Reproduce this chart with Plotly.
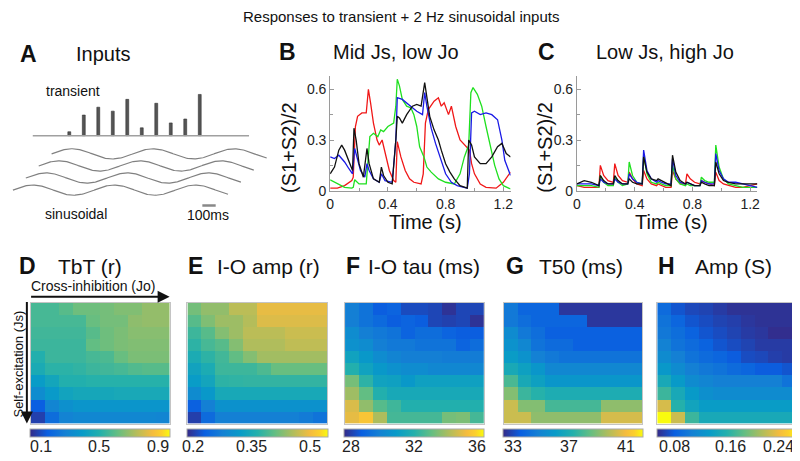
import numpy as np
import plotly.graph_objects as go

# The page body adds an 8 px margin, so the figure is drawn 8 px smaller and
# all layout positions (given in screen pixels) are shifted by that offset.
OFF = 8
W, H = 800 - OFF, 461 - OFF
FONT = "Liberation Sans, Arial, Helvetica, sans-serif"

def fx(p):
    return (p - OFF) / W

def fy(p):
    return 1 - (p - OFF) / H

# ---------------- Panel A: input schematic ----------------
transient_times_ms = [100, 200, 300, 400, 500, 600, 700, 800, 900, 1000]
transient_amps = [4, 21, 29, 25, 37, 8, 33, 13, 17, 42]
sine_period_ms = 560
sine_span_ms = 1484
sine_amp = 5.2
sine_starts_ms = [-22, -111, -200, -289]
sine_levels = [68.5, 56.2, 43.9, 31.6]

# ---------------- Panel B: Mid Js, low Jo ----------------
tB_red = [0, 0.05, 0.1, 0.15, 0.16, 0.175, 0.19, 0.22, 0.25, 0.265, 0.28, 0.3, 0.325, 0.34, 0.36, 0.38,
          0.41, 0.44, 0.455, 0.465, 0.49, 0.52, 0.55, 0.58, 0.63, 0.645, 0.66, 0.68, 0.72, 0.75, 0.77,
          0.79, 0.82, 0.84, 0.87, 0.9, 0.94, 0.965, 0.98, 1.0, 1.04, 1.08, 1.15, 1.2, 1.25]
yB_red = [0.015, 0.015, 0.03, 0.06, 0.08, 0.38, 0.44, 0.46, 0.46, 0.6, 0.52, 0.4, 0.3, 0.27, 0.3, 0.22,
          0.12, 0.06, 0.05, 0.29, 0.2, 0.12, 0.07, 0.05, 0.04, 0.1, 0.4, 0.48, 0.53, 0.55, 0.5,
          0.52, 0.45, 0.5, 0.38, 0.3, 0.26, 0.24, 0.16, 0.1, 0.04, 0.02, 0.015, 0.05, 0.11]

tB_green = [0, 0.05, 0.1, 0.15, 0.16, 0.17, 0.2, 0.25, 0.26, 0.275, 0.3, 0.33, 0.35, 0.37, 0.4, 0.44,
            0.455, 0.465, 0.48, 0.5, 0.53, 0.56, 0.58, 0.6, 0.62, 0.65, 0.67, 0.7, 0.75, 0.8, 0.86,
            0.9, 0.93, 0.96, 0.975, 0.99, 1.02, 1.05, 1.08, 1.11, 1.14, 1.17, 1.2, 1.25]
yB_green = [0.065, 0.04, 0.02, 0.015, 0.02, 0.065, 0.04, 0.04, 0.14, 0.32, 0.34, 0.32, 0.36, 0.35, 0.38, 0.4,
            0.5, 0.66, 0.62, 0.54, 0.5, 0.49, 0.45, 0.38, 0.26, 0.2, 0.14, 0.11, 0.07, 0.05, 0.04,
            0.1, 0.2, 0.27, 0.58, 0.61, 0.57, 0.5, 0.38, 0.26, 0.15, 0.07, 0.03, 0.01]

tB_blue = [0, 0.03, 0.06, 0.1, 0.13, 0.155, 0.17, 0.185, 0.21, 0.24, 0.255, 0.27, 0.3, 0.34, 0.355, 0.38,
           0.43, 0.455, 0.465, 0.5, 0.53, 0.56, 0.6, 0.64, 0.655, 0.67, 0.7, 0.73, 0.76, 0.8, 0.84,
           0.88, 0.95, 0.965, 0.98, 1.0, 1.04, 1.08, 1.12, 1.16, 1.19, 1.21, 1.25]
yB_blue = [0.2, 0.19, 0.21, 0.17, 0.13, 0.1, 0.25, 0.2, 0.12, 0.08, 0.16, 0.12, 0.07, 0.05, 0.1, 0.06,
           0.05, 0.3, 0.55, 0.54, 0.52, 0.5, 0.47, 0.45, 0.58, 0.5, 0.37, 0.28, 0.2, 0.1, 0.05,
           0.03, 0.015, 0.1, 0.46, 0.47, 0.45, 0.46, 0.45, 0.42, 0.3, 0.18, 0.09]

tB_black = [0, 0.03, 0.06, 0.08, 0.1, 0.13, 0.155, 0.165, 0.18, 0.2, 0.23, 0.255, 0.27, 0.3, 0.34, 0.355,
            0.37, 0.4, 0.43, 0.455, 0.465, 0.48, 0.5, 0.53, 0.57, 0.6, 0.63, 0.655, 0.67, 0.69, 0.72,
            0.75, 0.77, 0.8, 0.83, 0.86, 0.9, 0.95, 0.96, 0.98, 1.0, 1.04, 1.08, 1.12, 1.16, 1.19,
            1.22, 1.25]
yB_black = [0.1, 0.14, 0.24, 0.27, 0.24, 0.17, 0.12, 0.37, 0.3, 0.16, 0.08, 0.25, 0.16, 0.07, 0.05, 0.14,
            0.09, 0.05, 0.04, 0.3, 0.44, 0.43, 0.4, 0.45, 0.5, 0.51, 0.5, 0.64, 0.55, 0.44, 0.36,
            0.3, 0.24, 0.16, 0.11, 0.07, 0.03, 0.015, 0.3, 0.27, 0.2, 0.16, 0.16, 0.2, 0.26, 0.28,
            0.22, 0.2]

# ---------------- Panel C: Low Js, high Jo ----------------
tC = [0.00, 0.05, 0.10,
      0.152, 0.162, 0.185, 0.215,
      0.252, 0.262, 0.285, 0.315,
      0.352, 0.362, 0.385, 0.415,
      0.452, 0.462, 0.485, 0.515,
      0.552, 0.562, 0.585, 0.615,
      0.652, 0.662, 0.685, 0.715,
      0.752, 0.762, 0.785, 0.815,
      0.852, 0.862, 0.885, 0.915,
      0.952, 0.962, 0.985, 1.015,
      1.05, 1.10, 1.15, 1.20, 1.25]
yC_red = [0.03, 0.02, 0.02,
          0.02, 0.15, 0.09, 0.06,
          0.05, 0.16, 0.09, 0.06,
          0.05, 0.11, 0.07, 0.04,
          0.03, 0.12, 0.07, 0.04,
          0.03, 0.04, 0.03, 0.02,
          0.02, 0.12, 0.07, 0.04,
          0.04, 0.10, 0.07, 0.05,
          0.04, 0.06, 0.05, 0.04,
          0.03, 0.11, 0.06, 0.04,
          0.03, 0.02, 0.02, 0.03, 0.04]
yC_green = [0.03, 0.03, 0.03,
            0.02, 0.09, 0.05, 0.03,
            0.03, 0.08, 0.05, 0.03,
            0.04, 0.17, 0.09, 0.05,
            0.04, 0.21, 0.10, 0.05,
            0.04, 0.05, 0.04, 0.03,
            0.03, 0.15, 0.07, 0.04,
            0.03, 0.04, 0.03, 0.03,
            0.03, 0.08, 0.06, 0.05,
            0.05, 0.27, 0.14, 0.07,
            0.04, 0.03, 0.02, 0.02, 0.02]
yC_blue = [0.04, 0.04, 0.04,
           0.03, 0.07, 0.05, 0.04,
           0.04, 0.07, 0.05, 0.04,
           0.04, 0.10, 0.07, 0.05,
           0.04, 0.24, 0.12, 0.07,
           0.05, 0.06, 0.05, 0.04,
           0.04, 0.19, 0.09, 0.05,
           0.04, 0.05, 0.04, 0.03,
           0.03, 0.06, 0.05, 0.04,
           0.04, 0.22, 0.12, 0.07,
           0.05, 0.05, 0.04, 0.03, 0.02]
yC_black = [0.04, 0.06, 0.05,
            0.03, 0.09, 0.06, 0.04,
            0.04, 0.09, 0.06, 0.04,
            0.04, 0.07, 0.05, 0.04,
            0.04, 0.20, 0.11, 0.07,
            0.06, 0.07, 0.06, 0.05,
            0.03, 0.21, 0.11, 0.06,
            0.04, 0.05, 0.04, 0.03,
            0.03, 0.05, 0.04, 0.03,
            0.03, 0.17, 0.10, 0.06,
            0.05, 0.04, 0.04, 0.04, 0.04]

# ---------------- Panels D-H: 10x10 maps (rows: Js, cols: Jo) ----------------
tbt_r = [
    [0.57, 0.57, 0.60, 0.64, 0.64, 0.65, 0.67, 0.67, 0.70, 0.70],
    [0.57, 0.57, 0.57, 0.57, 0.63, 0.65, 0.65, 0.69, 0.70, 0.70],
    [0.56, 0.56, 0.56, 0.56, 0.60, 0.64, 0.66, 0.68, 0.68, 0.68],
    [0.55, 0.55, 0.55, 0.55, 0.62, 0.64, 0.66, 0.67, 0.67, 0.67],
    [0.50, 0.55, 0.55, 0.55, 0.57, 0.58, 0.63, 0.66, 0.66, 0.66],
    [0.47, 0.52, 0.52, 0.53, 0.55, 0.56, 0.57, 0.59, 0.60, 0.60],
    [0.39, 0.44, 0.50, 0.50, 0.51, 0.51, 0.51, 0.51, 0.51, 0.51],
    [0.32, 0.38, 0.43, 0.45, 0.45, 0.45, 0.46, 0.46, 0.46, 0.46],
    [0.15, 0.29, 0.34, 0.36, 0.36, 0.36, 0.36, 0.36, 0.36, 0.36],
    [0.08, 0.20, 0.28, 0.30, 0.30, 0.30, 0.30, 0.30, 0.30, 0.29],
]
io_amp_r = [
    [0.420, 0.438, 0.438, 0.463, 0.463, 0.491, 0.491, 0.491, 0.491, 0.491],
    [0.402, 0.427, 0.445, 0.445, 0.459, 0.484, 0.484, 0.484, 0.484, 0.484],
    [0.384, 0.402, 0.430, 0.445, 0.463, 0.463, 0.463, 0.473, 0.473, 0.473],
    [0.373, 0.391, 0.402, 0.430, 0.456, 0.456, 0.456, 0.466, 0.466, 0.466],
    [0.355, 0.373, 0.387, 0.409, 0.430, 0.448, 0.448, 0.448, 0.448, 0.448],
    [0.337, 0.355, 0.384, 0.384, 0.384, 0.395, 0.413, 0.413, 0.413, 0.413],
    [0.323, 0.341, 0.373, 0.375, 0.377, 0.377, 0.377, 0.377, 0.377, 0.377],
    [0.294, 0.316, 0.348, 0.348, 0.348, 0.348, 0.348, 0.348, 0.348, 0.348],
    [0.234, 0.277, 0.305, 0.305, 0.305, 0.305, 0.305, 0.305, 0.305, 0.305],
    [0.205, 0.248, 0.277, 0.277, 0.277, 0.277, 0.277, 0.277, 0.270, 0.259],
]
io_tau_ms = [
    [29.8, 29.4, 28.7, 28.9, 28.3, 28.3, 28.2, 27.8, 28.2, 28.2],
    [29.8, 29.4, 29.1, 28.7, 28.9, 28.7, 28.2, 28.1, 28.2, 27.8],
    [30.3, 29.8, 29.6, 29.4, 28.9, 29.2, 29.2, 28.9, 28.7, 28.7],
    [30.5, 30.3, 29.8, 29.6, 29.6, 29.4, 29.4, 29.4, 28.9, 29.2],
    [31.3, 30.8, 30.3, 30.0, 29.8, 29.8, 29.8, 29.7, 29.7, 29.7],
    [32.0, 31.3, 30.8, 30.5, 30.3, 30.3, 30.1, 30.1, 30.1, 30.1],
    [33.4, 32.2, 31.3, 31.2, 30.8, 31.2, 31.2, 31.2, 31.2, 31.2],
    [34.0, 33.1, 32.0, 31.6, 31.6, 31.6, 31.6, 31.6, 31.6, 31.6],
    [34.9, 33.8, 32.9, 32.5, 32.0, 32.0, 32.0, 32.0, 32.0, 32.0],
    [35.1, 35.6, 34.2, 32.6, 32.6, 32.6, 32.6, 33.4, 33.5, 32.6],
]
t50_ms = [
    [34.5, 33.8, 33.8, 33.8, 32.6, 32.6, 32.6, 32.6, 32.6, 32.6],
    [34.5, 34.1, 33.8, 33.8, 33.8, 33.8, 32.6, 32.6, 32.6, 32.6],
    [35.3, 34.5, 34.1, 33.6, 33.6, 33.6, 33.6, 33.6, 33.6, 33.6],
    [35.6, 35.1, 34.3, 34.0, 34.0, 33.6, 33.6, 33.6, 33.6, 33.6],
    [36.1, 35.6, 34.8, 34.5, 34.3, 34.3, 34.3, 34.3, 34.3, 34.3],
    [36.8, 36.3, 35.8, 35.1, 35.1, 35.1, 35.1, 35.1, 35.1, 35.1],
    [38.0, 36.8, 36.3, 35.8, 35.8, 35.8, 35.8, 35.8, 35.8, 35.8],
    [39.0, 37.7, 37.3, 37.0, 37.0, 37.0, 37.0, 37.0, 37.0, 37.0],
    [40.2, 39.0, 39.0, 37.9, 37.9, 37.9, 37.9, 39.2, 39.2, 39.2],
    [40.2, 40.2, 39.2, 39.2, 39.2, 39.2, 39.2, 40.4, 40.4, 40.4],
]
amp_s = [
    [0.089, 0.075, 0.069, 0.067, 0.063, 0.059, 0.059, 0.059, 0.059, 0.059],
    [0.095, 0.085, 0.075, 0.071, 0.067, 0.065, 0.061, 0.059, 0.059, 0.059],
    [0.099, 0.091, 0.083, 0.075, 0.071, 0.067, 0.063, 0.061, 0.057, 0.057],
    [0.107, 0.095, 0.089, 0.083, 0.075, 0.071, 0.067, 0.063, 0.063, 0.063],
    [0.115, 0.105, 0.095, 0.089, 0.085, 0.079, 0.071, 0.069, 0.065, 0.063],
    [0.127, 0.115, 0.105, 0.099, 0.095, 0.089, 0.085, 0.079, 0.079, 0.075],
    [0.145, 0.129, 0.115, 0.109, 0.105, 0.105, 0.105, 0.105, 0.105, 0.095],
    [0.164, 0.145, 0.129, 0.119, 0.115, 0.115, 0.115, 0.115, 0.115, 0.115],
    [0.218, 0.155, 0.139, 0.131, 0.131, 0.131, 0.131, 0.131, 0.131, 0.131],
    [0.254, 0.214, 0.164, 0.145, 0.145, 0.145, 0.145, 0.145, 0.145, 0.145],
]

map_titles = ["TbT (r)", "I-O amp (r)", "I-O tau (ms)", "T50 (ms)", "Amp (S)"]
map_letters = ["D", "E", "F", "G", "H"]
map_ranges = [(0.03, 0.98), (0.187, 0.545), (27.62, 36.44), (32.3, 42.2), (0.055, 0.254)]
map_ticks = [[0.1, 0.5, 0.9], [0.2, 0.35, 0.5], [28, 32, 36], [33, 37, 41], [0.08, 0.16, 0.24]]
map_ticktext = [["0.1", "0.5", "0.9"], ["0.2", "0.35", "0.5"], ["28", "32", "36"],
                ["33", "37", "41"], ["0.08", "0.16", "0.24"]]

PARULA = [
    [0.0, 'rgb(53,42,135)'],
    [0.125, 'rgb(10,95,225)'],
    [0.25, 'rgb(20,128,212)'],
    [0.375, 'rgb(8,155,200)'],
    [0.5, 'rgb(35,176,172)'],
    [0.625, 'rgb(100,190,130)'],
    [0.75, 'rgb(175,189,92)'],
    [0.875, 'rgb(245,188,62)'],
    [0.94, 'rgb(252,208,44)'],
    [1.0, 'rgb(249,251,14)'],
]

RED, GREEN, BLUE, BLACK = '#f01818', '#1fe01f', '#1a1ae6', '#111111'

fig = go.Figure()

# ---- Panel A traces ----
fig.add_trace(go.Scatter(x=[-152, 1340], y=[87, 87], mode='lines',
                         line=dict(color='#a0a0a0', width=1.5), xaxis='x', yaxis='y',
                         showlegend=False, hoverinfo='skip'))
fig.add_trace(go.Bar(x=transient_times_ms, y=transient_amps, base=87, width=20,
                     marker=dict(color='#555555', line=dict(color='#333333', width=0.6)),
                     xaxis='x', yaxis='y', showlegend=False, hoverinfo='skip'))
for s0, lvl in zip(sine_starts_ms, sine_levels):
    tt = np.linspace(s0, s0 + sine_span_ms, 240)
    yy = lvl + sine_amp * np.sin(2 * np.pi * (tt - s0) / sine_period_ms)
    fig.add_trace(go.Scatter(x=tt, y=yy, mode='lines', line=dict(color='#808080', width=1.2),
                             xaxis='x', yaxis='y', showlegend=False, hoverinfo='skip'))
fig.add_trace(go.Scatter(x=[1018, 1110], y=[16, 16], mode='lines',
                         line=dict(color='#888888', width=2.5), xaxis='x', yaxis='y',
                         showlegend=False, hoverinfo='skip'))

# ---- Panel B traces ----
for t, y, c in [(tB_red, yB_red, RED), (tB_green, yB_green, GREEN),
                (tB_blue, yB_blue, BLUE), (tB_black, yB_black, BLACK)]:
    fig.add_trace(go.Scatter(x=t, y=y, mode='lines', line=dict(color=c, width=1.3),
                             xaxis='x2', yaxis='y2', showlegend=False, hoverinfo='skip'))
# ---- Panel C traces ----
for y, c in [(yC_red, RED), (yC_green, GREEN), (yC_blue, BLUE), (yC_black, BLACK)]:
    fig.add_trace(go.Scatter(x=tC, y=y, mode='lines', line=dict(color=c, width=1.3),
                             xaxis='x3', yaxis='y3', showlegend=False, hoverinfo='skip'))

# ---- Heatmaps ----
map_data = [tbt_r, io_amp_r, io_tau_ms, t50_ms, amp_s]
map_x_px = [(27, 167), (185, 326), (344, 484), (504, 644), (659, 799)]
for i, z in enumerate(map_data):
    ax = i + 4
    x0, x1 = map_x_px[i]
    zmin, zmax = map_ranges[i]
    fig.add_trace(go.Heatmap(
        z=z, x=list(range(10)), y=list(range(10)), zmin=zmin, zmax=zmax,
        colorscale=PARULA, xaxis=f'x{ax}', yaxis=f'y{ax}', hoverinfo='skip',
        colorbar=dict(orientation='h', x=fx((x0 + x1) / 2), xanchor='center',
                      y=fy(437), yanchor='top', len=x1 - x0, lenmode='pixels',
                      thickness=8, thicknessmode='pixels', tickvals=map_ticks[i],
                      ticks='', showticklabels=False,
                      outlinewidth=1, outlinecolor='#aaaaaa', xpad=0, ypad=0)))

layout = dict(
    width=W, height=H, margin=dict(l=0, r=0, t=0, b=0),
    paper_bgcolor='white', plot_bgcolor='white', showlegend=False,
    font=dict(family=FONT, color='#111'),
    xaxis=dict(domain=[fx(OFF), fx(272)], range=[-350 + OFF / 0.1462, 1510], visible=False, anchor='y'),
    yaxis=dict(domain=[fy(225), fy(60)], range=[0, 165], visible=False, anchor='x'),
)
line_ax = dict(showline=True, linecolor='#9a9a9a', linewidth=1, ticks='inside', ticklen=4,
               tickcolor='#9a9a9a', showgrid=False, zeroline=False,
               tickfont=dict(size=14, family=FONT, color='#222'))
for k, (xa, xb) in [(2, (329, 511)), (3, (578, 760))]:
    layout[f'xaxis{k}'] = dict(domain=[fx(xa), fx(xb)], range=[0, 1.25], anchor=f'y{k}',
                               tickvals=[0, 0.4, 0.8, 1.2], ticktext=['0', '0.4', '0.8', '1.2'],
                               minor=dict(tickvals=[0.2, 0.6, 1.0], ticks='inside', ticklen=3,
                                          tickcolor='#9a9a9a'),
                               **line_ax)
    layout[f'yaxis{k}'] = dict(domain=[fy(194), fy(77)], range=[0, 0.68], anchor=f'x{k}',
                               tickvals=[0, 0.3, 0.6], ticktext=['0', '0.3', '0.6'],
                               minor=dict(tickvals=[0.15, 0.45], ticks='inside', ticklen=3,
                                          tickcolor='#9a9a9a'),
                               **line_ax)
for i in range(5):
    ax = i + 4
    x0, x1 = map_x_px[i]
    frame = dict(showline=True, mirror=True, linecolor='#c4c4c4', linewidth=1, ticks='',
                 showticklabels=False, showgrid=False, zeroline=False)
    layout[f'xaxis{ax}'] = dict(domain=[fx(x0), min(1.0, fx(x1))], range=[-0.5, 9.5], anchor=f'y{ax}', **frame)
    layout[f'yaxis{ax}'] = dict(domain=[fy(431), fy(308)], range=[9.5, -0.5], anchor=f'x{ax}', **frame)

def txt(x, y, s, size, bold=False, angle=0, color='#111'):
    return dict(x=fx(x), y=fy(y), xref='paper', yref='paper',
                text=f'<b>{s}</b>' if bold else s, showarrow=False,
                font=dict(size=size, family=FONT, color=color),
                xanchor='center', yanchor='middle', textangle=angle)

ann = [
    txt(400, 17, 'Responses to transient + 2 Hz sinusoidal inputs', 15),
    txt(25, 55, 'A', 23, bold=True), txt(100, 55, 'Inputs', 20),
    txt(70, 92, 'transient', 14), txt(73, 218, 'sinusoidal', 14), txt(206, 219, '100ms', 14),
    txt(286, 53, 'B', 23, bold=True), txt(395, 53, 'Mid Js, low Jo', 20),
    txt(547, 53, 'C', 23, bold=True), txt(667, 53, 'Low Js, high Jo', 20),
    txt(288, 150, '(S1+S2)/2', 20, angle=-90), txt(546, 150, '(S1+S2)/2', 20, angle=-90),
    txt(425, 226, 'Time (s)', 20), txt(673, 226, 'Time (s)', 20),
    txt(90, 291, 'Cross-inhibition (Jo)', 14),
    txt(15, 370, 'Self-excitation (Js)', 13, angle=-90),
]
letter_x = [24, 193, 352, 515, 668]
title_x = [87, 267, 424, 582, 736]
for i in range(5):
    ann.append(txt(letter_x[i], 271, map_letters[i], 23, bold=True))
    ann.append(txt(title_x[i], 271, map_titles[i], 21))
    # colorbar tick labels placed at their value positions along the bar
    x0, x1 = map_x_px[i]
    zmin, zmax = map_ranges[i]
    for v, s in zip(map_ticks[i], map_ticktext[i]):
        pos = min(x0 + (v - zmin) / (zmax - zmin) * (x1 - x0), 781)
        ann.append(txt(pos, 454, s, 16, color='#222'))
# arrows (tail offsets in pixels)
ann.append(dict(x=fx(167), y=fy(302), ax=-140, ay=0, xref='paper', yref='paper',
                axref='pixel', ayref='pixel', text='', showarrow=True, arrowhead=2,
                arrowsize=1.2, arrowwidth=2, arrowcolor='#111', standoff=0, startstandoff=0))
ann.append(dict(x=fx(23), y=fy(431), ax=0, ay=-123, xref='paper', yref='paper',
                axref='pixel', ayref='pixel', text='', showarrow=True, arrowhead=2,
                arrowsize=1.2, arrowwidth=2, arrowcolor='#111', standoff=0, startstandoff=0))
layout['annotations'] = ann
fig.update_layout(**layout)

fig.write_html("out.html")
